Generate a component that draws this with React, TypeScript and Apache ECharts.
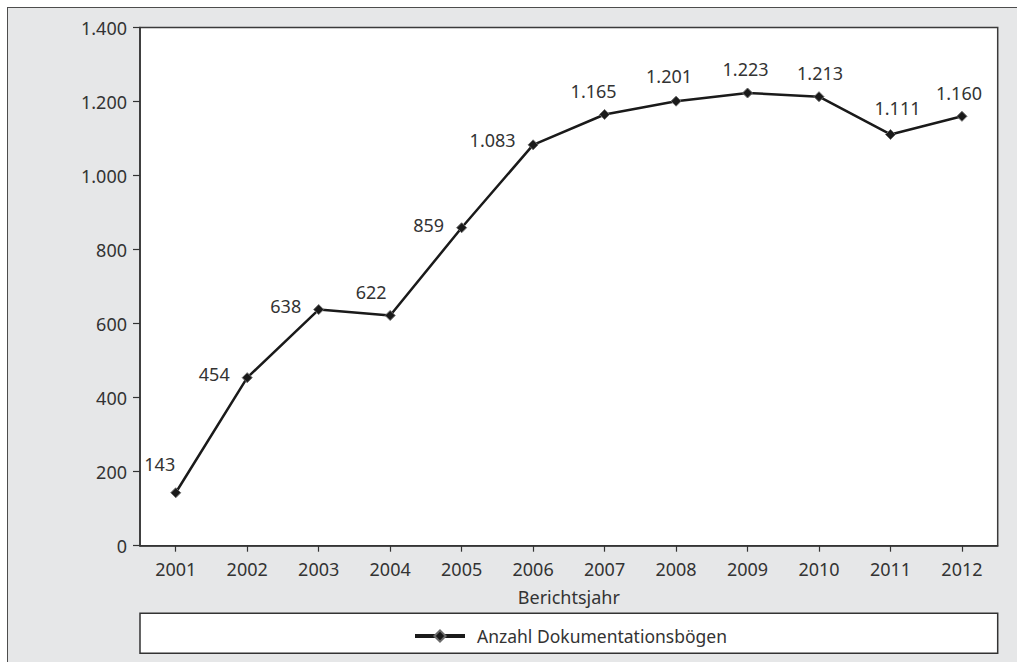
import React, { useEffect, useRef } from "react";
import * as echarts from "echarts";

const years = ["2001", "2002", "2003", "2004", "2005", "2006", "2007", "2008", "2009", "2010", "2011", "2012"];
const anzahl = [143, 454, 638, 622, 859, 1083, 1165, 1201, 1223, 1213, 1111, 1160];
const seriesName = "Anzahl Dokumentationsbögen";
const xAxisName = "Berichtsjahr";
const yMin = 0;
const yMax = 1400;
const yStep = 200;

// label placement (style only): [position, dx, dy]
const labelPlacement: [string, number, number][] = [
  ["top", -16, -9],
  ["left", 0, -4],
  ["left", 0, -4],
  ["top", -19, -3.5],
  ["left", 0, -3],
  ["left", 0, -4.5],
  ["top", -11, -4],
  ["top", -7, -5.5],
  ["top", -2, -4.5],
  ["top", 1, -4.5],
  ["top", 7, -6.5],
  ["top", -3, -3.5],
];

const fmt = (v: number) => String(v).replace(/\B(?=(\d{3})+(?!\d))/g, ".");

const FONT = "'Noto Sans', 'Open Sans', sans-serif";
const TXT = "#333333";
const FS = 18;

export default function App() {
  const ref = useRef<HTMLDivElement>(null);
  useEffect(() => {
    if (!ref.current) return;
    const chart = echarts.init(ref.current, null, { renderer: "svg" });
    const gridLeft = 140;
    const gridTop = 27.5;
    const gridRight = 1017 - 997.7;
    const gridBottom = 662 - 545.7;
    chart.setOption({
      animation: false,
      textStyle: { fontFamily: FONT },
      grid: {
        left: gridLeft,
        top: gridTop,
        right: gridRight,
        bottom: gridBottom,
        show: true,
        backgroundColor: "#ffffff",
        borderColor: "#3a3a3a",
        borderWidth: 1.5,
      },
      graphic: [
        {
          type: "rect",
          z: 1,
          shape: { x: 140, y: 613.3, width: 857.7, height: 40 },
          style: { fill: "#ffffff", stroke: "#333333", lineWidth: 1.5 },
        },
      ],
      legend: {
        z: 10,
        left: 413,
        top: 627,
        padding: 0,
        itemWidth: 50,
        itemHeight: 14,
        data: [seriesName],
        lineStyle: { width: 4 },
        textStyle: { fontSize: 17.5, color: TXT, fontFamily: FONT, padding: [0, 0, 0, 7] },
      },
      xAxis: {
        type: "category",
        data: years,
        boundaryGap: true,
        name: xAxisName,
        nameLocation: "middle",
        nameGap: 42,
        nameTextStyle: { fontSize: FS, color: TXT, fontFamily: FONT },
        axisLine: { lineStyle: { color: "#333333", width: 1.5 } },
        axisTick: { show: true, alignWithLabel: true, length: 6, lineStyle: { color: "#333333", width: 1.2 } },
        axisLabel: { fontSize: FS, color: TXT, margin: 14, fontFamily: FONT },
        splitLine: { show: false },
      },
      yAxis: {
        type: "value",
        min: yMin,
        max: yMax,
        interval: yStep,
        axisLine: { show: true, lineStyle: { color: "#333333", width: 1.5 } },
        axisTick: { show: true, length: 7, lineStyle: { color: "#333333", width: 1.2 } },
        axisLabel: { fontSize: FS, color: TXT, margin: 13, fontFamily: FONT, formatter: (v: number) => fmt(v) },
        splitLine: { show: false },
      },
      series: [
        {
          name: seriesName,
          type: "line",
          data: anzahl.map((v, i) => ({
            value: v,
            label: {
              show: true,
              position: labelPlacement[i][0],
              distance: labelPlacement[i][0] === "left" ? 12 : 5,
              offset: [labelPlacement[i][1], labelPlacement[i][2]],
            },
          })),
          symbol: "diamond",
          symbolSize: 10,
          lineStyle: { color: "#1a1a1a", width: 2.5 },
          itemStyle: { color: "#1a1a1a", borderColor: "#6a6a6a", borderWidth: 1 },
          label: {
            show: true,
            fontSize: FS,
            color: TXT,
            fontFamily: FONT,
            formatter: (p: any) => fmt(p.value),
          },
        },
      ],
    });
    return () => chart.dispose();
  }, []);
  return (
    <div style={{ position: "absolute", left: 0, top: 0, width: 1017, height: 662, overflow: "hidden", background: "#ffffff" }}>
      <div
        style={{
          position: "absolute",
          left: 7,
          top: 7,
          width: 1100,
          height: 800,
          borderLeft: "1.5px solid #4d4d4d",
          borderTop: "1.5px solid #4d4d4d",
          background: "#e6e7e8",
        }}
      />
      <div ref={ref} style={{ position: "absolute", left: 0, top: 0, width: 1017, height: 662 }} />
    </div>
  );
}
